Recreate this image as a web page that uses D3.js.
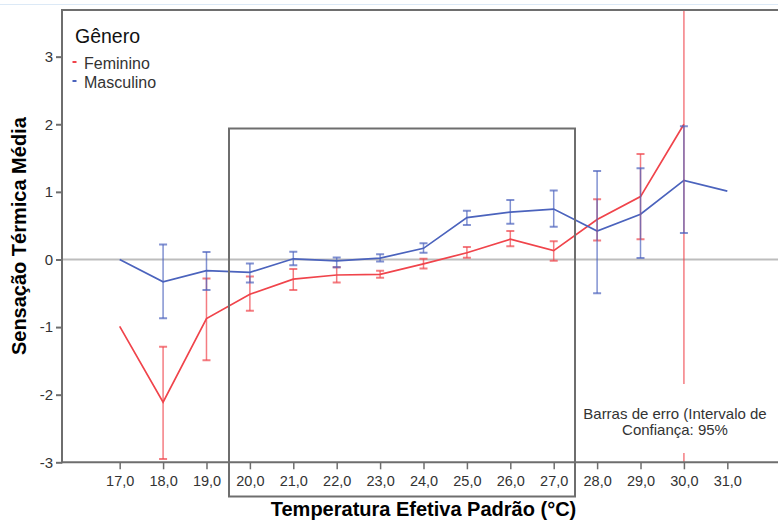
<!DOCTYPE html>
<html>
<head>
<meta charset="utf-8">
<script src="https://cdn.jsdelivr.net/npm/d3@7"></script>
<style>
  html, body { margin: 0; padding: 0; background: #fff; }
  svg { display: block; font-family: "Liberation Sans", Arial, sans-serif; }
</style>
</head>
<body>
<svg id="chart" width="778" height="520"></svg>
<script>
// ---- data ----
const temps = [17, 18, 19, 20, 21, 22, 23, 24, 25, 26, 27, 28, 29, 30, 31];
const xTickLabels = ["17,0","18,0","19,0","20,0","21,0","22,0","23,0","24,0","25,0","26,0","27,0","28,0","29,0","30,0","31,0"];
const yTicks = [-3, -2, -1, 0, 1, 2, 3];

const femTemps = [17, 18, 19, 20, 21, 22, 23, 24, 25, 26, 27, 28, 29, 30];
const femMean  = [-0.99, -2.11, -0.875, -0.515, -0.29, -0.23, -0.22, -0.066, 0.10, 0.30, 0.13, 0.59, 0.93, 2.0];
const femLow   = [null, -2.95, -1.49, -0.76, -0.45, -0.34, -0.27, -0.135, 0.027, 0.195, -0.02, 0.28, 0.30, -4.6];
const femHigh  = [null, -1.29, -0.28, -0.25, -0.14, -0.115, -0.165, 0.01, 0.185, 0.42, 0.27, 0.89, 1.56, 8.6];

const mascTemps = [17, 18, 19, 20, 21, 22, 23, 24, 25, 26, 27, 28, 29, 30, 31];
const mascMean  = [0.0, -0.33, -0.165, -0.19, 0.01, -0.02, 0.02, 0.165, 0.62, 0.70, 0.745, 0.42, 0.67, 1.17, 1.01];
const mascLow   = [null, -0.87, -0.45, -0.34, -0.085, -0.115, -0.03, 0.10, 0.51, 0.53, 0.485, -0.50, 0.02, 0.39, null];
const mascHigh  = [null, 0.22, 0.11, -0.06, 0.115, 0.03, 0.077, 0.24, 0.72, 0.88, 1.02, 1.31, 1.35, 1.97, null];

const seriesNames = ["Feminino", "Masculino"];
const seriesColors = ["#f0444b", "#4b63bd"];

// ---- layout ----
const svg = d3.select("#chart");
const plot = { left: 62, top: 10, right: 785, bottom: 462.3 };

const x = d3.scaleLinear().domain([15.671, 32.329]).range([plot.left, plot.right]);
const y = d3.scaleLinear().domain([-3, 3.69]).range([plot.bottom, plot.top]);

// faint top line (window border)
svg.append("line").attr("x1", 0).attr("x2", 778).attr("y1", 4.5).attr("y2", 4.5)
  .attr("stroke", "#dce9f6").attr("stroke-width", 1);

svg.append("defs").append("clipPath").attr("id", "clip")
  .append("rect").attr("x", plot.left).attr("y", plot.top)
  .attr("width", plot.right - plot.left).attr("height", plot.bottom - plot.top);

// zero reference line
svg.append("line")
  .attr("x1", plot.left).attr("x2", plot.right)
  .attr("y1", y(0)).attr("y2", y(0))
  .attr("stroke", "#bdbdbd").attr("stroke-width", 2);

// ---- series ----
const series = [
  { name: seriesNames[0], color: seriesColors[0], t: femTemps, m: femMean, lo: femLow, hi: femHigh },
  { name: seriesNames[1], color: seriesColors[1], t: mascTemps, m: mascMean, lo: mascLow, hi: mascHigh }
];

const g = svg.append("g").attr("clip-path", "url(#clip)");
const line = d3.line().x(d => x(d.t)).y(d => y(d.m));

series.forEach(s => {
  const pts = s.t.map((t, i) => ({ t, m: s.m[i], lo: s.lo[i], hi: s.hi[i] }));
  g.append("path").datum(pts)
    .attr("d", line).attr("fill", "none")
    .attr("stroke", s.color).attr("stroke-width", 1.7);
});

series.forEach(s => {
  const pts = s.t.map((t, i) => ({ t, m: s.m[i], lo: s.lo[i], hi: s.hi[i] })).filter(d => d.lo !== null);
  const eb = g.append("g").attr("stroke", s.color).attr("stroke-opacity", 0.7);
  pts.forEach(d => {
    eb.append("line").attr("x1", x(d.t)).attr("x2", x(d.t))
      .attr("y1", y(d.lo)).attr("y2", y(d.hi)).attr("stroke-width", 1.5);
    [d.lo, d.hi].forEach(v => {
      eb.append("line").attr("x1", x(d.t) - 4).attr("x2", x(d.t) + 4)
        .attr("y1", y(v)).attr("y2", y(v)).attr("stroke-width", 2);
    });
  });
});

// ---- axes frame ----
const frame = "#6e6e6e";
svg.append("line").attr("x1", plot.left).attr("x2", plot.right).attr("y1", plot.top).attr("y2", plot.top)
  .attr("stroke", frame).attr("stroke-width", 2);
svg.append("line").attr("x1", plot.left).attr("x2", plot.left).attr("y1", plot.top - 1).attr("y2", plot.bottom + 1)
  .attr("stroke", frame).attr("stroke-width", 2);
svg.append("line").attr("x1", plot.left).attr("x2", plot.right).attr("y1", plot.bottom).attr("y2", plot.bottom)
  .attr("stroke", frame).attr("stroke-width", 2);

// y axis
const yAxis = d3.axisLeft(y).tickValues(yTicks).tickSize(6).tickPadding(3).tickFormat(d3.format("d"));
const ya = svg.append("g").attr("transform", `translate(${plot.left},0)`).call(yAxis);
ya.select(".domain").remove();
ya.selectAll(".tick line").attr("stroke", frame).attr("stroke-width", 2);
ya.selectAll(".tick text").attr("font-size", 15).attr("fill", "#333")
  .attr("font-family", "'Liberation Sans', Arial, sans-serif")
  .text(d => d < 0 ? "-" + Math.abs(d) : d);

// x axis
const xAxis = d3.axisBottom(x).tickValues(temps).tickSize(7).tickPadding(6)
  .tickFormat((d, i) => xTickLabels[i]);
const xa = svg.append("g").attr("transform", `translate(0,${plot.bottom})`).call(xAxis);
xa.select(".domain").remove();
xa.selectAll(".tick line").attr("stroke", frame).attr("stroke-width", 1.5);
xa.selectAll(".tick text").attr("font-size", 14.5).attr("fill", "#333")
  .attr("font-family", "'Liberation Sans', Arial, sans-serif");

// highlight box
svg.append("rect")
  .attr("x", 229).attr("y", 128.5).attr("width", 346).attr("height", 368)
  .attr("fill", "none").attr("stroke", "#6e6e6e").attr("stroke-width", 2);

// annotation
svg.append("rect").attr("x", 579).attr("y", 384).attr("width", 192).attr("height", 69).attr("fill", "#fff");
const ann = svg.append("text").attr("font-size", 15).attr("fill", "#333").attr("text-anchor", "middle");
ann.append("tspan").attr("x", 675).attr("y", 419).text("Barras de erro (Intervalo de");
ann.append("tspan").attr("x", 675).attr("y", 435).text("Confiança: 95%");

// legend
svg.append("text").attr("x", 75).attr("y", 43).attr("font-size", 19.5).attr("fill", "#111").text("Gênero");
series.forEach((s, i) => {
  const yy = 62 + i * 19;
  svg.append("line").attr("x1", 72.5).attr("x2", 76.5).attr("y1", yy).attr("y2", yy)
    .attr("stroke", s.color).attr("stroke-width", 2);
  svg.append("text").attr("x", 84).attr("y", yy + 6.5).attr("font-size", 16).attr("fill", "#333").text(s.name);
});

// axis titles
svg.append("text").attr("x", (plot.left + plot.right) / 2).attr("y", 516)
  .attr("text-anchor", "middle").attr("font-size", 20).attr("font-weight", "bold").attr("fill", "#000")
  .text("Temperatura Efetiva Padrão (°C)");
svg.append("text").attr("transform", `translate(26,${(plot.top + plot.bottom) / 2}) rotate(-90)`)
  .attr("text-anchor", "middle").attr("font-size", 20).attr("font-weight", "bold").attr("fill", "#000")
  .text("Sensação Térmica Média");
</script>
</body>
</html>
